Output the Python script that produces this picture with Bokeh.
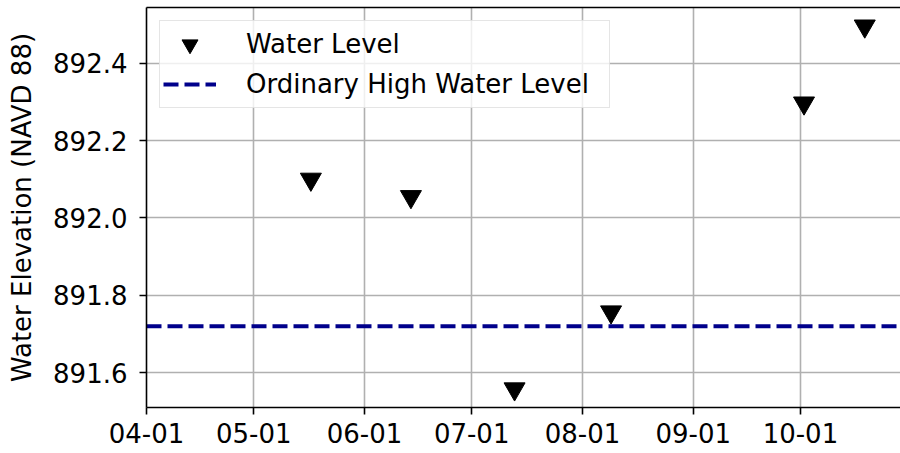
from datetime import datetime, timezone
from bokeh.plotting import figure
from bokeh.models import (Range1d, FixedTicker, PrintfTickFormatter, LinearAxis,
                          DatetimeTickFormatter, Legend, LegendItem)
from bokeh.embed import file_html
from bokeh.resources import INLINE

# ---- data ----
dates = ["2023-05-17", "2023-06-14", "2023-07-13", "2023-08-09", "2023-10-02", "2023-10-19"]
water_level = [892.10, 892.055, 891.558, 891.757, 892.297, 892.496]
ohw_level = 891.72
x_limits = ["2023-04-01", "2023-10-29"]
y_limits = [891.510, 892.544]
y_ticks = [891.6, 891.8, 892.0, 892.2, 892.4]
x_ticks = ["2023-04-01", "2023-05-01", "2023-06-01", "2023-07-01",
           "2023-08-01", "2023-09-01", "2023-10-01"]
y_label = "Water Elevation (NAVD 88)"
series_labels = ["Water Level", "Ordinary High Water Level"]


def to_dt(s):
    return datetime.strptime(s, "%Y-%m-%d")


def to_ms(s):
    return datetime.strptime(s, "%Y-%m-%d").replace(tzinfo=timezone.utc).timestamp() * 1000.0


FONT = "DejaVu Sans"
FS = "26px"

p = figure(width=900, height=453, x_axis_type="datetime",
           output_backend="svg", toolbar_location=None,
           x_range=Range1d(to_dt(x_limits[0]), to_dt(x_limits[1])),
           y_range=Range1d(y_limits[0], y_limits[1]),
           min_border_left=146, min_border_right=0,
           min_border_top=7, min_border_bottom=46)

p.background_fill_color = "white"
p.border_fill_color = "white"
p.outline_line_color = None

bottom = p.below[0]
left = p.left[0]

# markers
sc = p.scatter(x=[to_dt(d) for d in dates], y=water_level,
               marker="inverted_triangle", size=21,
               fill_color="black", line_color="black")
# ordinary high water line
ln = p.line(x=[to_dt(x_limits[0]), to_dt(x_limits[1])], y=[ohw_level, ohw_level],
            line_color="#00008b", line_width=4, line_dash="15 6")

# top spine (axis line only, no ticks or labels)
top_ax = LinearAxis(ticker=FixedTicker(ticks=[]), axis_line_color="black",
                    axis_line_width=1.6, major_tick_line_color=None,
                    minor_tick_line_color=None)
p.add_layout(top_ax, "above")

# axes
bottom.ticker = FixedTicker(ticks=[to_ms(t) for t in x_ticks])
bottom.formatter = DatetimeTickFormatter(days="%m-%d", months="%m-%d", years="%m-%d")
bottom.minor_tick_line_color = None
left.ticker = FixedTicker(ticks=y_ticks)
left.formatter = PrintfTickFormatter(format="%.1f")
left.minor_tick_line_color = None

for ax in (bottom, left):
    ax.axis_line_color = "black"
    ax.axis_line_width = 1.6
    ax.major_tick_line_color = "black"
    ax.major_tick_line_width = 1.6
    ax.major_tick_out = 7
    ax.major_tick_in = 0
    ax.major_label_text_font = FONT
    ax.major_label_text_font_size = FS
    ax.major_label_text_color = "black"

bottom.major_label_standoff = 8
left.major_label_standoff = 12
left.axis_label = y_label
left.axis_label_text_font = FONT
left.axis_label_text_font_size = FS
left.axis_label_text_font_style = "normal"
left.axis_label_text_color = "black"
left.axis_label_standoff = 13

# grid
p.xgrid.ticker = FixedTicker(ticks=[to_ms(t) for t in x_ticks])
p.ygrid.ticker = FixedTicker(ticks=y_ticks)
for g in (p.xgrid, p.ygrid):
    g.grid_line_color = "#b0b0b0"
    g.grid_line_width = 1.6

legend = Legend(items=[LegendItem(label=series_labels[0], renderers=[sc]),
                       LegendItem(label=series_labels[1], renderers=[ln])],
                location="top_left", margin=13, padding=3, spacing=0,
                glyph_height=40, glyph_width=53, label_standoff=30,
                label_width=360,
                label_text_font=FONT, label_text_font_size=FS,
                label_text_color="black",
                border_line_color="#cccccc", border_line_width=1.6,
                background_fill_color="white", background_fill_alpha=0.8)
p.add_layout(legend)

open("out.html", "w").write(file_html(p, INLINE))
